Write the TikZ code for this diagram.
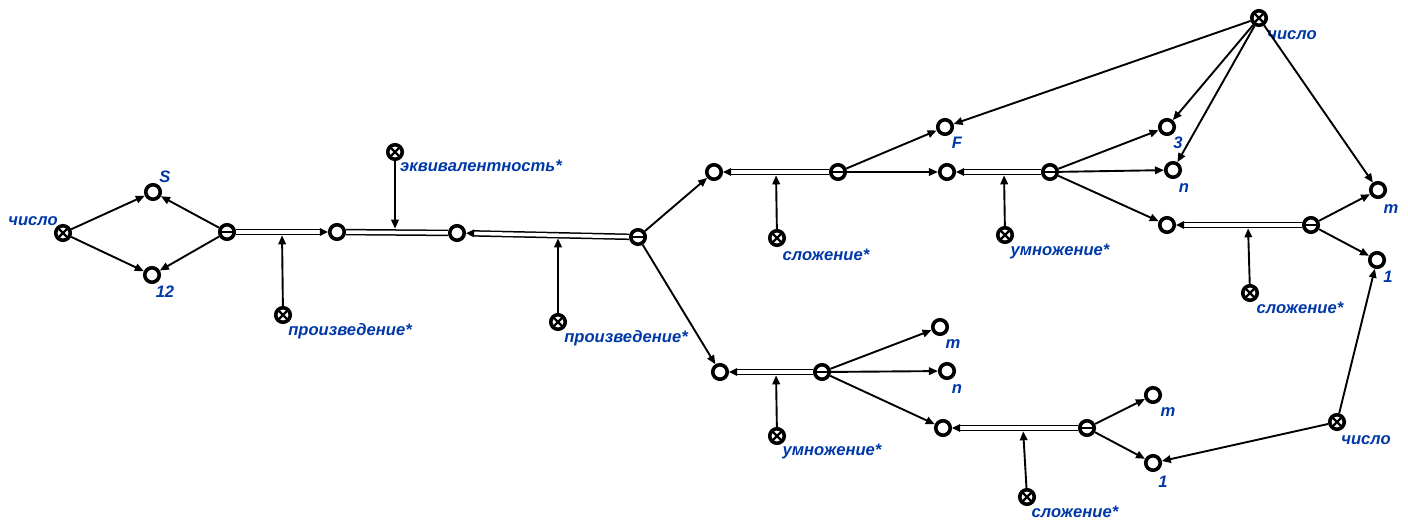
\documentclass[tikz,border=0pt]{standalone}
\usepackage{fontspec}
\setmainfont{Liberation Sans}
\usetikzlibrary{arrows.meta,calc}
\definecolor{lblue}{RGB}{0,56,168}
\begin{document}
\begin{tikzpicture}[x=1pt,y=-1pt,
  vtx/.style={circle,draw,line width=3.6pt,minimum size=14.5pt,inner sep=0pt,fill=white},
  xvtx/.style={vtx,path picture={\draw[line width=2.2pt] (path picture bounding box.north west)--(path picture bounding box.south east) (path picture bounding box.north east)--(path picture bounding box.south west);}},
  rvtx/.style={vtx,path picture={\draw[line width=2.2pt] (path picture bounding box.west)--(path picture bounding box.east);}},
  lab/.style={text=lblue,font=\fontsize{16.6}{19}\selectfont\bfseries\itshape,anchor=base,inner sep=0pt},
  arr/.style={line width=1.9pt,-{Triangle[length=9pt,width=7.5pt]}},
  dbl/.style={draw=black,line width=1.5pt,double=white,double distance=3.5pt},
  dbla/.style={dbl,-{Triangle[length=8pt,width=7.5pt]}},
  up/.style={arr,shorten >=3.3pt}
]
\useasboundingbox (0,0) rectangle (1408,531);
% vertices
\node[xvtx] (ch1) at (63,233) {};
\node[vtx] (S) at (153,192) {};
\node[vtx] (v12) at (152,275) {};
\node[rvtx] (r1) at (227,232) {};
\node[vtx] (o1) at (337,232) {};
\node[xvtx] (pr1) at (283,315) {};
\node[xvtx] (eq) at (395,152) {};
\node[vtx] (o2) at (457,233) {};
\node[rvtx] (r2) at (638,237) {};
\node[xvtx] (pr2) at (558,322) {};
\node[vtx] (o3) at (714,172) {};
\node[rvtx] (r3) at (838,172) {};
\node[xvtx] (sl1) at (777,238) {};
\node[vtx] (F) at (945,127) {};
\node[vtx] (o5) at (947,172) {};
\node[xvtx] (um1) at (1005,235) {};
\node[rvtx] (r4) at (1050,172) {};
\node[vtx] (v3) at (1167,127) {};
\node[vtx] (n1) at (1173,170) {};
\node[vtx] (o6) at (1167,225) {};
\node[rvtx] (r5) at (1311,225) {};
\node[xvtx] (sl2) at (1250,293) {};
\node[vtx] (m1) at (1378,190) {};
\node[vtx] (one1) at (1377,260) {};
\node[xvtx] (ch2) at (1259,18) {};
\node[vtx] (o4) at (720,372) {};
\node[rvtx] (r6) at (822,372) {};
\node[xvtx] (um2) at (777,436) {};
\node[vtx] (m2) at (940,327) {};
\node[vtx] (n2) at (947,371) {};
\node[vtx] (o7) at (943,428) {};
\node[rvtx] (r7) at (1087,428) {};
\node[xvtx] (sl3) at (1027,497) {};
\node[vtx] (m3) at (1153,395) {};
\node[vtx] (one2) at (1153,463) {};
\node[xvtx] (ch3) at (1337,422) {};
% tip points on relation lines
\coordinate (t1) at (282,232);
\coordinate (te) at (395,232);
\coordinate (t2) at (558,235);
\coordinate (t3) at (776,172);
\coordinate (t4) at (1004,172);
\coordinate (t5) at (1248,225);
\coordinate (t6) at (776,372);
\coordinate (t7) at (1023,428);
% labels
\node[lab] (lch1) at (33,225) {число};
\node[lab] (lS) at (165,182) {S};
\node[lab] (l12) at (165,297) {12};
\node[lab] (lpr1) at (350,335) {произведение*};
\node[lab] (leq) at (481,171) {эквивалентность*};
\node[lab] (lpr2) at (626,342) {произведение*};
\node[lab] (lsl1) at (826,260) {сложение*};
\node[lab] (lF) at (957,148) {F};
\node[lab] (lum1) at (1060,255) {умножение*};
\node[lab] (l3) at (1178,148) {3};
\node[lab] (ln1) at (1184,192) {n};
\node[lab] (lsl2) at (1300,313) {сложение*};
\node[lab] (lm1) at (1391,213) {m};
\node[lab] (lone1) at (1388,282) {1};
\node[lab] (lch2) at (1292,39) {число};
\node[lab] (lum2) at (832,455) {умножение*};
\node[lab] (lm2) at (953,348) {m};
\node[lab] (ln2) at (957,393) {n};
\node[lab] (lsl3) at (1075,517) {сложение*};
\node[lab] (lm3) at (1168,416) {m};
\node[lab] (lone2) at (1163,487) {1};
\node[lab] (lch3) at (1366,444) {число};
% double relation lines
\draw[dbla] (r1) -- (o1);
\draw[dbl] (o1) -- (o2);
\draw[dbla] (r2) -- (o2);
\draw[dbla] (r3) -- (o3);
\draw[dbla] (r4) -- (o5);
\draw[dbla] (r5) -- (o6);
\draw[dbla] (r6) -- (o4);
\draw[dbla] (r7) -- (o7);
% operator arrows
\draw[up] (pr1) -- (t1);
\draw[up] (eq) -- (te);
\draw[up] (pr2) -- (t2);
\draw[up] (sl1) -- (t3);
\draw[up] (um1) -- (t4);
\draw[up] (sl2) -- (t5);
\draw[up] (um2) -- (t6);
\draw[up] (sl3) -- (t7);
% arcs
\draw[arr] (ch1) -- (S);
\draw[arr] (ch1) -- (v12);
\draw[arr] (r1) -- (S);
\draw[arr] (r1) -- (v12);
\draw[arr] (r2) -- (o3);
\draw[arr] (r2) -- (o4);
\draw[arr] (r3) -- (F);
\draw[arr] (r3) -- (o5);
\draw[arr] (r4) -- (v3);
\draw[arr] (r4) -- (n1);
\draw[arr] (r4) -- (o6);
\draw[arr] (r5) -- (m1);
\draw[arr] (r5) -- (one1);
\draw[arr] (ch2) -- (F);
\draw[arr] (ch2) -- (v3);
\draw[arr] (ch2) -- (n1);
\draw[arr] (ch2) -- (m1);
\draw[arr] (r6) -- (m2);
\draw[arr] (r6) -- (n2);
\draw[arr] (r6) -- (o7);
\draw[arr] (r7) -- (m3);
\draw[arr] (r7) -- (one2);
\draw[arr] (ch3) -- (one2);
\draw[arr] (ch3) -- (one1);
\end{tikzpicture}
\end{document}
